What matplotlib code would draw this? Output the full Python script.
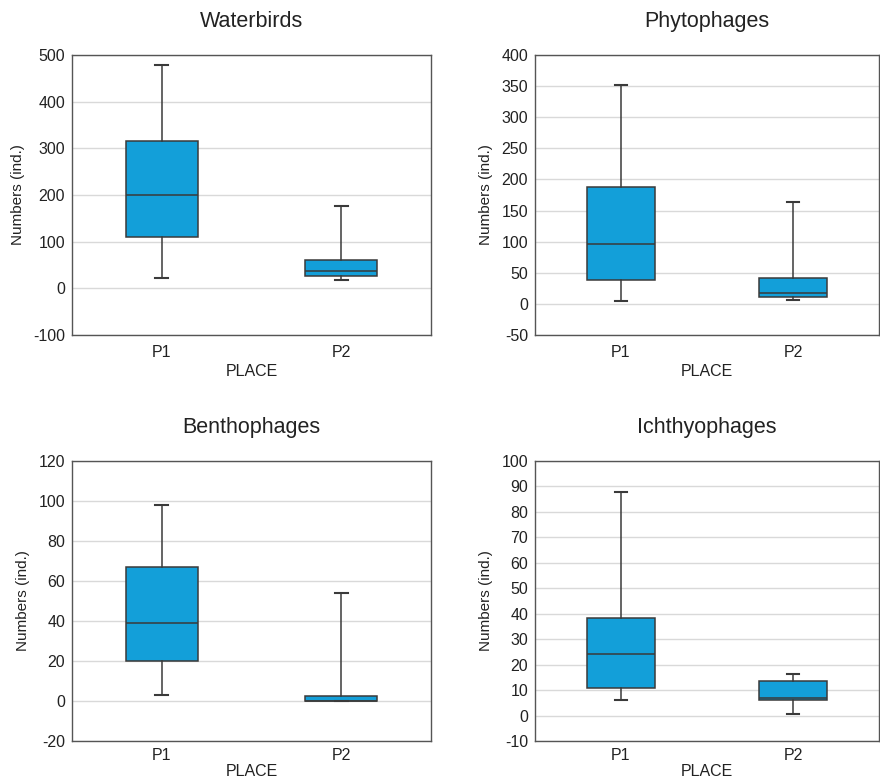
import matplotlib

matplotlib.use("Agg")
import matplotlib.pyplot as plt

plt.rcParams["font.family"] = ["Liberation Sans", "DejaVu Sans"]
plt.rcParams["axes.unicode_minus"] = False

TITLES = ["Waterbirds", "Phytophages", "Benthophages", "Ichthyophages"]
PLACES = ["P1", "P2"]

# per panel: [P1, P2] values as (whislo, q1, med, q3, whishi)
WATERBIRDS = [(22, 110, 201, 315, 478), (18, 27, 38, 61, 177)]
PHYTOPHAGES = [(4, 38, 97, 188, 352), (6, 11, 17, 42, 164)]
BENTHOPHAGES = [(3, 20, 39, 67, 98), (0, 0, 0, 2.5, 54)]
ICHTHYOPHAGES = [(6, 11, 24, 38.5, 88), (0.5, 6, 7, 13.5, 16.5)]

Y_LIMITS = [(-100, 500, 100), (-50, 400, 50), (-20, 120, 20), (-10, 100, 10)]

BOX_COLOR = "#139fd9"
EDGE_COLOR = "#3a3a3a"
GRID_COLOR = "#d9d9d9"

fig = plt.figure(figsize=(8.8, 7.8), dpi=100)
rects = [
    (72 / 880, 1 - 335 / 780, 359 / 880, 280 / 780),
    (535 / 880, 1 - 335 / 780, 344 / 880, 280 / 780),
    (72 / 880, 1 - 741 / 780, 359 / 880, 280 / 780),
    (535 / 880, 1 - 741 / 780, 344 / 880, 280 / 780),
]

for i, (rect, title, data, (lo, hi, step)) in enumerate(
    zip(rects, TITLES, [WATERBIRDS, PHYTOPHAGES, BENTHOPHAGES, ICHTHYOPHAGES], Y_LIMITS)
):
    ax = fig.add_axes(rect)
    stats = []
    for label, (wlo, q1, med, q3, whi) in zip(PLACES, data):
        stats.append(
            {"label": label, "whislo": wlo, "q1": q1, "med": med, "q3": q3, "whishi": whi, "fliers": []}
        )
    ax.bxp(
        stats,
        positions=[1, 2],
        widths=0.4,
        capwidths=0.07,
        patch_artist=True,
        showfliers=False,
        boxprops=dict(facecolor=BOX_COLOR, edgecolor=EDGE_COLOR, linewidth=1.1),
        medianprops=dict(color=EDGE_COLOR, linewidth=1.1),
        whiskerprops=dict(color=EDGE_COLOR, linewidth=1.1),
        capprops=dict(color=EDGE_COLOR, linewidth=1.5),
        zorder=3,
    )
    ax.set_xlim(0.5, 2.5)
    ax.set_ylim(lo, hi)
    ax.set_yticks(range(lo, hi + 1, step))
    ax.yaxis.grid(True, color=GRID_COLOR, linewidth=1, zorder=0)
    ax.set_axisbelow(True)
    ax.tick_params(axis="y", length=0, labelsize=11.5, colors="#222222", pad=5)
    ax.tick_params(axis="x", length=0, labelsize=11.5, colors="#222222", pad=7 if i < 2 else 5)
    for sp in ax.spines.values():
        sp.set_color("#555555")
        sp.set_linewidth(1)
    ax.set_title(title, fontsize=15.5, pad=20, color="#222222")
    ax.set_ylabel("Numbers (ind.)", fontsize=11, color="#222222", labelpad=6)
    ax.set_xlabel("PLACE", fontsize=11.5, color="#222222", labelpad=3 if i < 2 else 1)

fig.savefig("out.png", dpi=100)
